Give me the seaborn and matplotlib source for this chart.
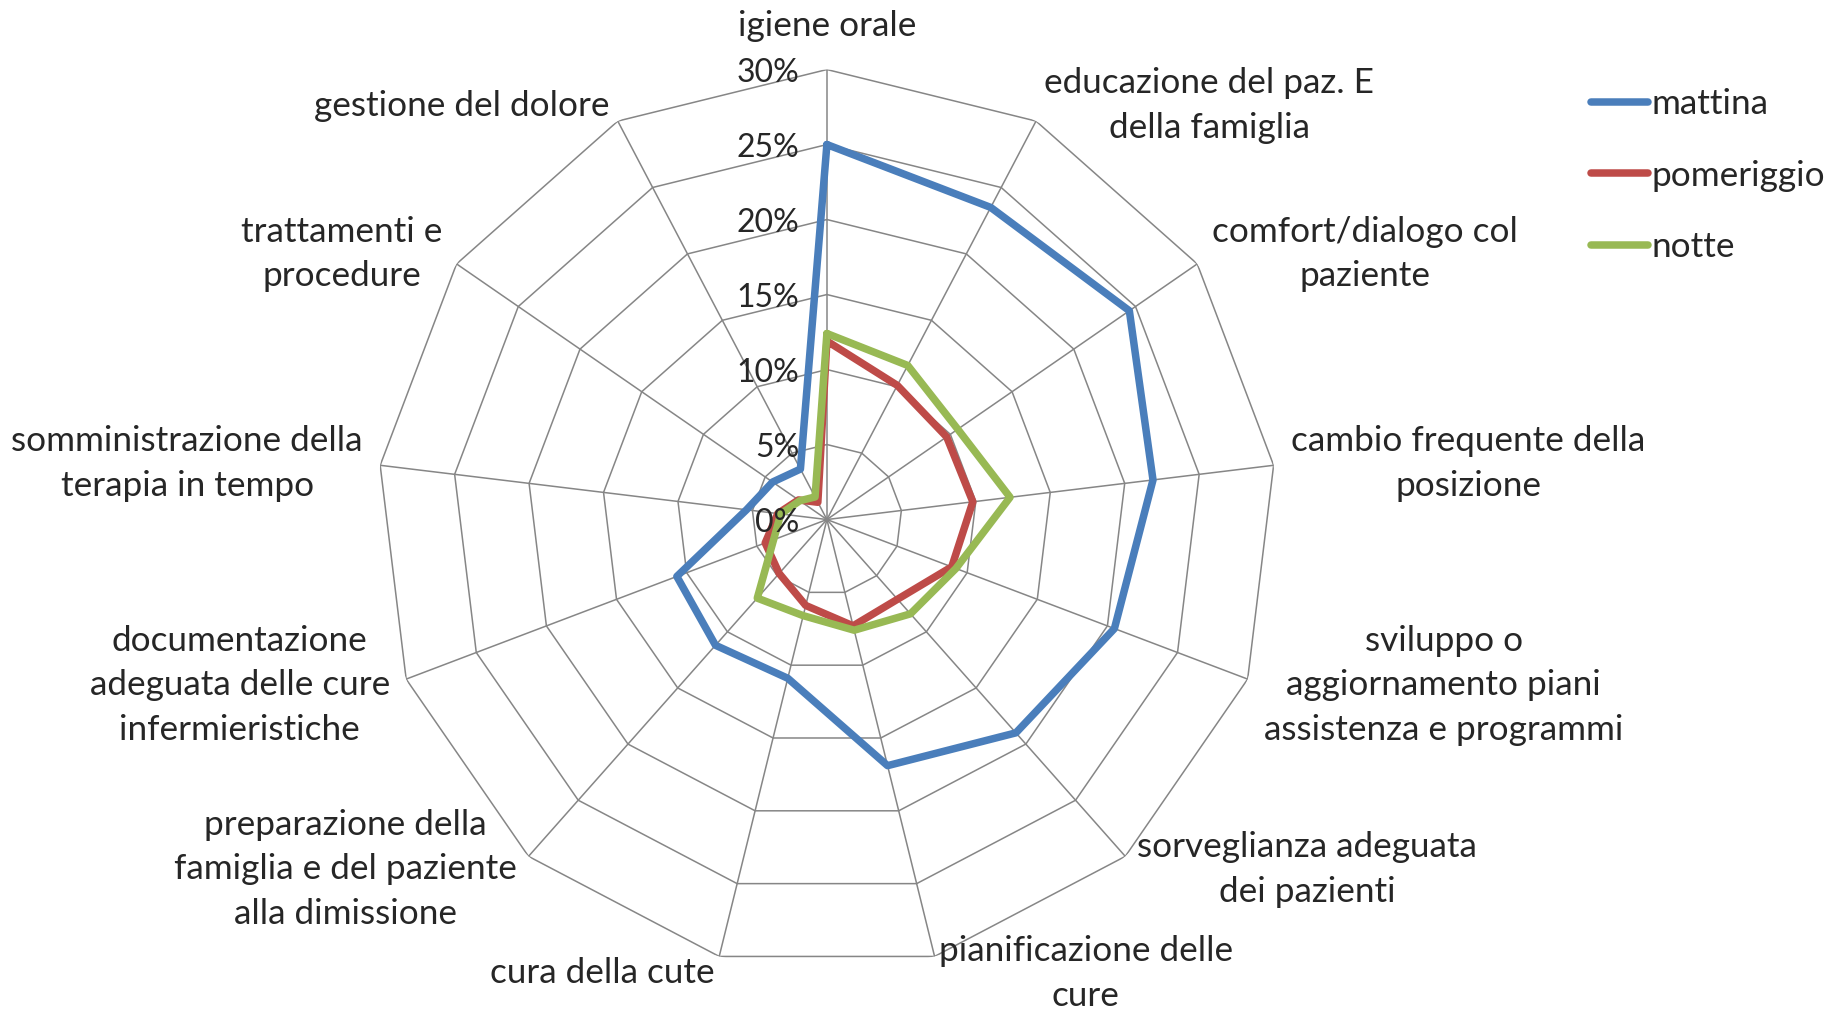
import numpy as np
import pandas as pd
import matplotlib
matplotlib.use("Agg")
import matplotlib.pyplot as plt
import seaborn as sns
from matplotlib.lines import Line2D

# dati (percentuali)
categorie = [
    "igiene orale",
    "educazione del paz. E\ndella famiglia",
    "comfort/dialogo col\npaziente",
    "cambio frequente della\nposizione",
    "sviluppo o\naggiornamento piani\nassistenza e programmi",
    "sorveglianza adeguata\ndei pazienti",
    "pianificazione delle\ncure",
    "cura della cute",
    "preparazione della\nfamiglia e del paziente\nalla dimissione",
    "documentazione\nadeguata delle cure\ninfermieristiche",
    "somministrazione della\nterapia in tempo",
    "trattamenti e\nprocedure",
    "gestione del dolore",
]
mattina = [25.0, 23.5, 24.5, 21.9, 20.5, 19.0, 16.9, 10.9, 11.2, 10.7, 5.4, 4.4, 3.8]
pomeriggio = [11.9, 10.1, 9.7, 9.8, 8.9, 7.1, 7.3, 5.9, 4.8, 4.4, 3.3, 2.3, 1.3]
notte = [12.4, 11.6, 10.6, 12.3, 9.2, 8.4, 7.6, 6.6, 7.0, 3.8, 3.1, 2.2, 1.7]
turni = ["mattina", "pomeriggio", "notte"]
livelli = [0, 5, 10, 15, 20, 25, 30]
colori = ["#4A7EBB", "#BE4B48", "#98B954"]

sns.set_theme(style="white")
plt.rcParams["font.family"] = ["Lato", "DejaVu Sans"]

n = len(categorie)
theta = np.linspace(0, 2 * np.pi, n, endpoint=False)

# tabella lunga, con il primo punto ripetuto per chiudere il poligono
righe = []
for turno, valori in zip(turni, [mattina, pomeriggio, notte]):
    for t, v in zip(np.append(theta, 2 * np.pi), valori + [valori[0]]):
        righe.append({"turno": turno, "theta": t, "valore": v})
df = pd.DataFrame(righe)

fig = plt.figure(figsize=(18.27, 10.09), dpi=100)
ax = fig.add_axes([0.2063, 0.0391, 0.4926, 0.892], projection="polar")
ax.set_theta_offset(np.pi / 2)
ax.set_theta_direction(-1)
ax.set_ylim(0, 30)
ax.grid(False)
ax.spines["polar"].set_visible(False)
ax.set_xticks([])
ax.set_yticks([])
ax.set_facecolor("white")

# griglia poligonale e raggi
for lv in livelli[1:]:
    ax.plot(np.append(theta, theta[0]), [lv] * (n + 1), color="#868686", lw=1.1, zorder=1)
for t in theta:
    ax.plot([t, t], [0, 30], color="#868686", lw=1.1, zorder=1)

lw = 5.4
sns.lineplot(data=df, x="theta", y="valore", hue="turno", hue_order=turni,
             palette=colori, sort=False, estimator=None, linewidth=lw,
             legend=False, ax=ax, zorder=3)
ax.set_xlabel("")
ax.set_ylabel("")

fs = 25.3
# etichette percentuali sull'asse verticale
for lv in livelli:
    ax.annotate(f"{lv}%", xy=(0, lv), xytext=(-20, -2.5), textcoords="offset points",
                ha="right", va="center", fontsize=23)

# etichette delle categorie
for t, lab in zip(theta, categorie):
    s, c = np.sin(t), np.cos(t)
    if abs(s) < 0.05:
        ha = "center"
        off = (0, 31)
    else:
        ha = "left" if s > 0 else "right"
        off = (12.6 * s, 12.6 * c)
    ax.annotate(lab, xy=(t, 30), xytext=off, textcoords="offset points",
                ha=ha, va="center", fontsize=fs, multialignment="center",
                linespacing=1.49, annotation_clip=False)

handles = [Line2D([0], [0], color=col, lw=lw, solid_capstyle="round") for col in colori]
fig.legend(handles, turni, loc="upper left", bbox_to_anchor=(0.871, 0.9126),
           frameon=False, fontsize=fs, handlelength=1.6, handletextpad=0.1,
           labelspacing=1.12, borderpad=0, borderaxespad=0)

fig.savefig("out.png", dpi=100, facecolor="white")
